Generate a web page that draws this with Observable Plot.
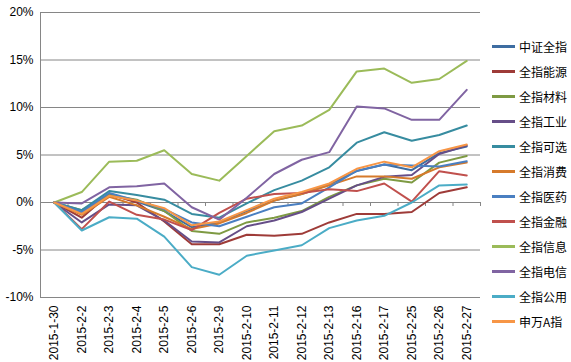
<!DOCTYPE html>
<html>
<head>
<meta charset="utf-8">
<script src="https://cdn.jsdelivr.net/npm/d3@7"></script>
<script src="https://cdn.jsdelivr.net/npm/@observablehq/plot@0.6"></script>
<style>
  html, body { margin: 0; padding: 0; background: #fff; }
  #wrap { position: relative; width: 571px; height: 362px; }
  #legend { position: absolute; left: 492px; top: 34px; font-family: "Noto Sans CJK SC", sans-serif; font-size: 12px; color: #000; }
  .item { height: 25px; display: flex; align-items: center; }
  .swatch { width: 23px; height: 3px; margin-right: 4px; }
</style>
</head>
<body>
<div id="wrap"><div id="legend"></div></div>
<script>
const dates = ["2015-1-30","2015-2-2","2015-2-3","2015-2-4","2015-2-5","2015-2-6","2015-2-9","2015-2-10","2015-2-11","2015-2-12","2015-2-13","2015-2-16","2015-2-17","2015-2-25","2015-2-26","2015-2-27"];
const seriesNames = ["中证全指","全指能源","全指材料","全指工业","全指可选","全指消费","全指医药","全指金融","全指信息","全指电信","全指公用","申万A指"];
const seriesColors = ["#3E6DA1","#9E3B38","#7E9A43","#664E88","#378CA0","#D67A2B","#4A7FC1","#C0504D","#9BBB59","#8064A2","#4BACC6","#F79646"];

const csiAll      = [0, -1.1, 0.8, 0.1, -0.9, -2.6, -2.1, -0.9, 0.2, 0.9, 1.9, 3.3, 4.0, 3.4, 5.2, 5.9];
const energy      = [0, -1.6, 0.9, 0.0, -2.0, -4.4, -4.4, -3.4, -3.5, -3.3, -2.1, -1.2, -1.2, -1.0, 1.0, 1.6];
const materials   = [0, -0.8, 0.8, 0.3, -0.9, -3.0, -3.3, -2.1, -1.6, -0.9, 0.6, 1.8, 2.5, 2.1, 4.2, 4.9];
const industrials = [0, -2.1, -0.2, -0.3, -1.9, -4.1, -4.2, -2.5, -1.9, -1.0, 0.4, 1.8, 2.7, 2.9, 5.1, 6.0];
const discretion  = [0, -0.8, 1.2, 0.8, 0.3, -1.2, -1.6, -0.1, 1.3, 2.3, 3.7, 6.3, 7.4, 6.5, 7.1, 8.1];
const staples     = [0, -1.3, 0.6, -0.3, -1.5, -2.8, -2.2, -1.1, 0.2, 0.9, 1.8, 2.75, 2.75, 2.5, 3.7, 4.2];
const health      = [0, -1.0, 1.0, 0.2, -0.7, -2.1, -2.5, -1.5, -0.5, -0.1, 1.6, 3.35, 4.0, 3.9, 3.8, 4.35];
const financials  = [0, -2.8, 0.1, -1.3, -1.8, -2.9, -1.1, 0.4, 0.9, 1.0, 1.4, 1.2, 2.0, 0.1, 3.3, 2.85];
const infoTech    = [0, 1.1, 4.3, 4.4, 5.5, 3.0, 2.3, 4.9, 7.5, 8.1, 9.75, 13.8, 14.1, 12.6, 13.0, 14.9];
const telecom     = [0, -0.1, 1.6, 1.7, 2.0, -0.5, -1.8, 0.5, 3.0, 4.5, 5.3, 10.1, 9.9, 8.7, 8.7, 11.85];
const utilities   = [0, -2.95, -1.55, -1.7, -3.6, -6.8, -7.6, -5.6, -5.05, -4.5, -2.7, -1.9, -1.4, 0.0, 1.8, 1.9];
const swAIndex    = [0, -1.2, 0.7, 0.2, -0.6, -2.4, -2.0, -0.8, 0.4, 1.1, 2.0, 3.55, 4.3, 3.7, 5.4, 6.1];

const yTicks = [-10, -5, 0, 5, 10, 15, 20];

const allSeries = [csiAll, energy, materials, industrials, discretion, staples, health, financials, infoTech, telecom, utilities, swAIndex];
const rows = [];
allSeries.forEach((vals, si) => vals.forEach((v, i) => rows.push({date: dates[i], series: seriesNames[si], value: v})));

const W = 571, H = 362, mL = 40, mR = 91, mT = 12, mB = 65;
const step = (W - mL - mR) / dates.length;

const chart = Plot.plot({
  width: W, height: H,
  marginLeft: mL, marginRight: mR, marginTop: mT, marginBottom: mB,
  style: {fontFamily: "'Liberation Sans', Arial, sans-serif", fontSize: "12px", color: "#000", background: "#fff"},
  x: {type: "point", domain: dates, padding: 0.5, round: false},
  y: {domain: [-10, 20]},
  color: {domain: seriesNames, range: seriesColors},
  marks: [
    Plot.gridY(yTicks, {stroke: "#868686", strokeOpacity: 1, strokeWidth: 1}),
    Plot.frame({anchor: "left", stroke: "#868686"}),
    Plot.ruleX(dates, {x: d => d, y1: 0, y2: -0.42, dx: -step / 2, stroke: "#868686"}),
    Plot.ruleX([dates[dates.length - 1]], {x: d => d, y1: 0, y2: -0.42, dx: step / 2, stroke: "#868686"}),
    Plot.axisY(yTicks, {tickFormat: d => d + "%", tickSize: 0, tickPadding: 7, fontSize: 12, label: null}),
    Plot.axisX({tickRotate: -90, tickSize: 0, tickPadding: 8, fontSize: 12, label: null}),
    Plot.line(rows, {x: "date", y: "value", stroke: "series", z: "series", strokeWidth: 2, strokeLinejoin: "round"})
  ]
});
document.getElementById("wrap").prepend(chart);

const legend = document.getElementById("legend");
seriesNames.forEach((n, i) => {
  const it = document.createElement("div");
  it.className = "item";
  it.innerHTML = `<div class="swatch" style="background:${seriesColors[i]}"></div><span>${n}</span>`;
  legend.appendChild(it);
});
</script>
</body>
</html>
